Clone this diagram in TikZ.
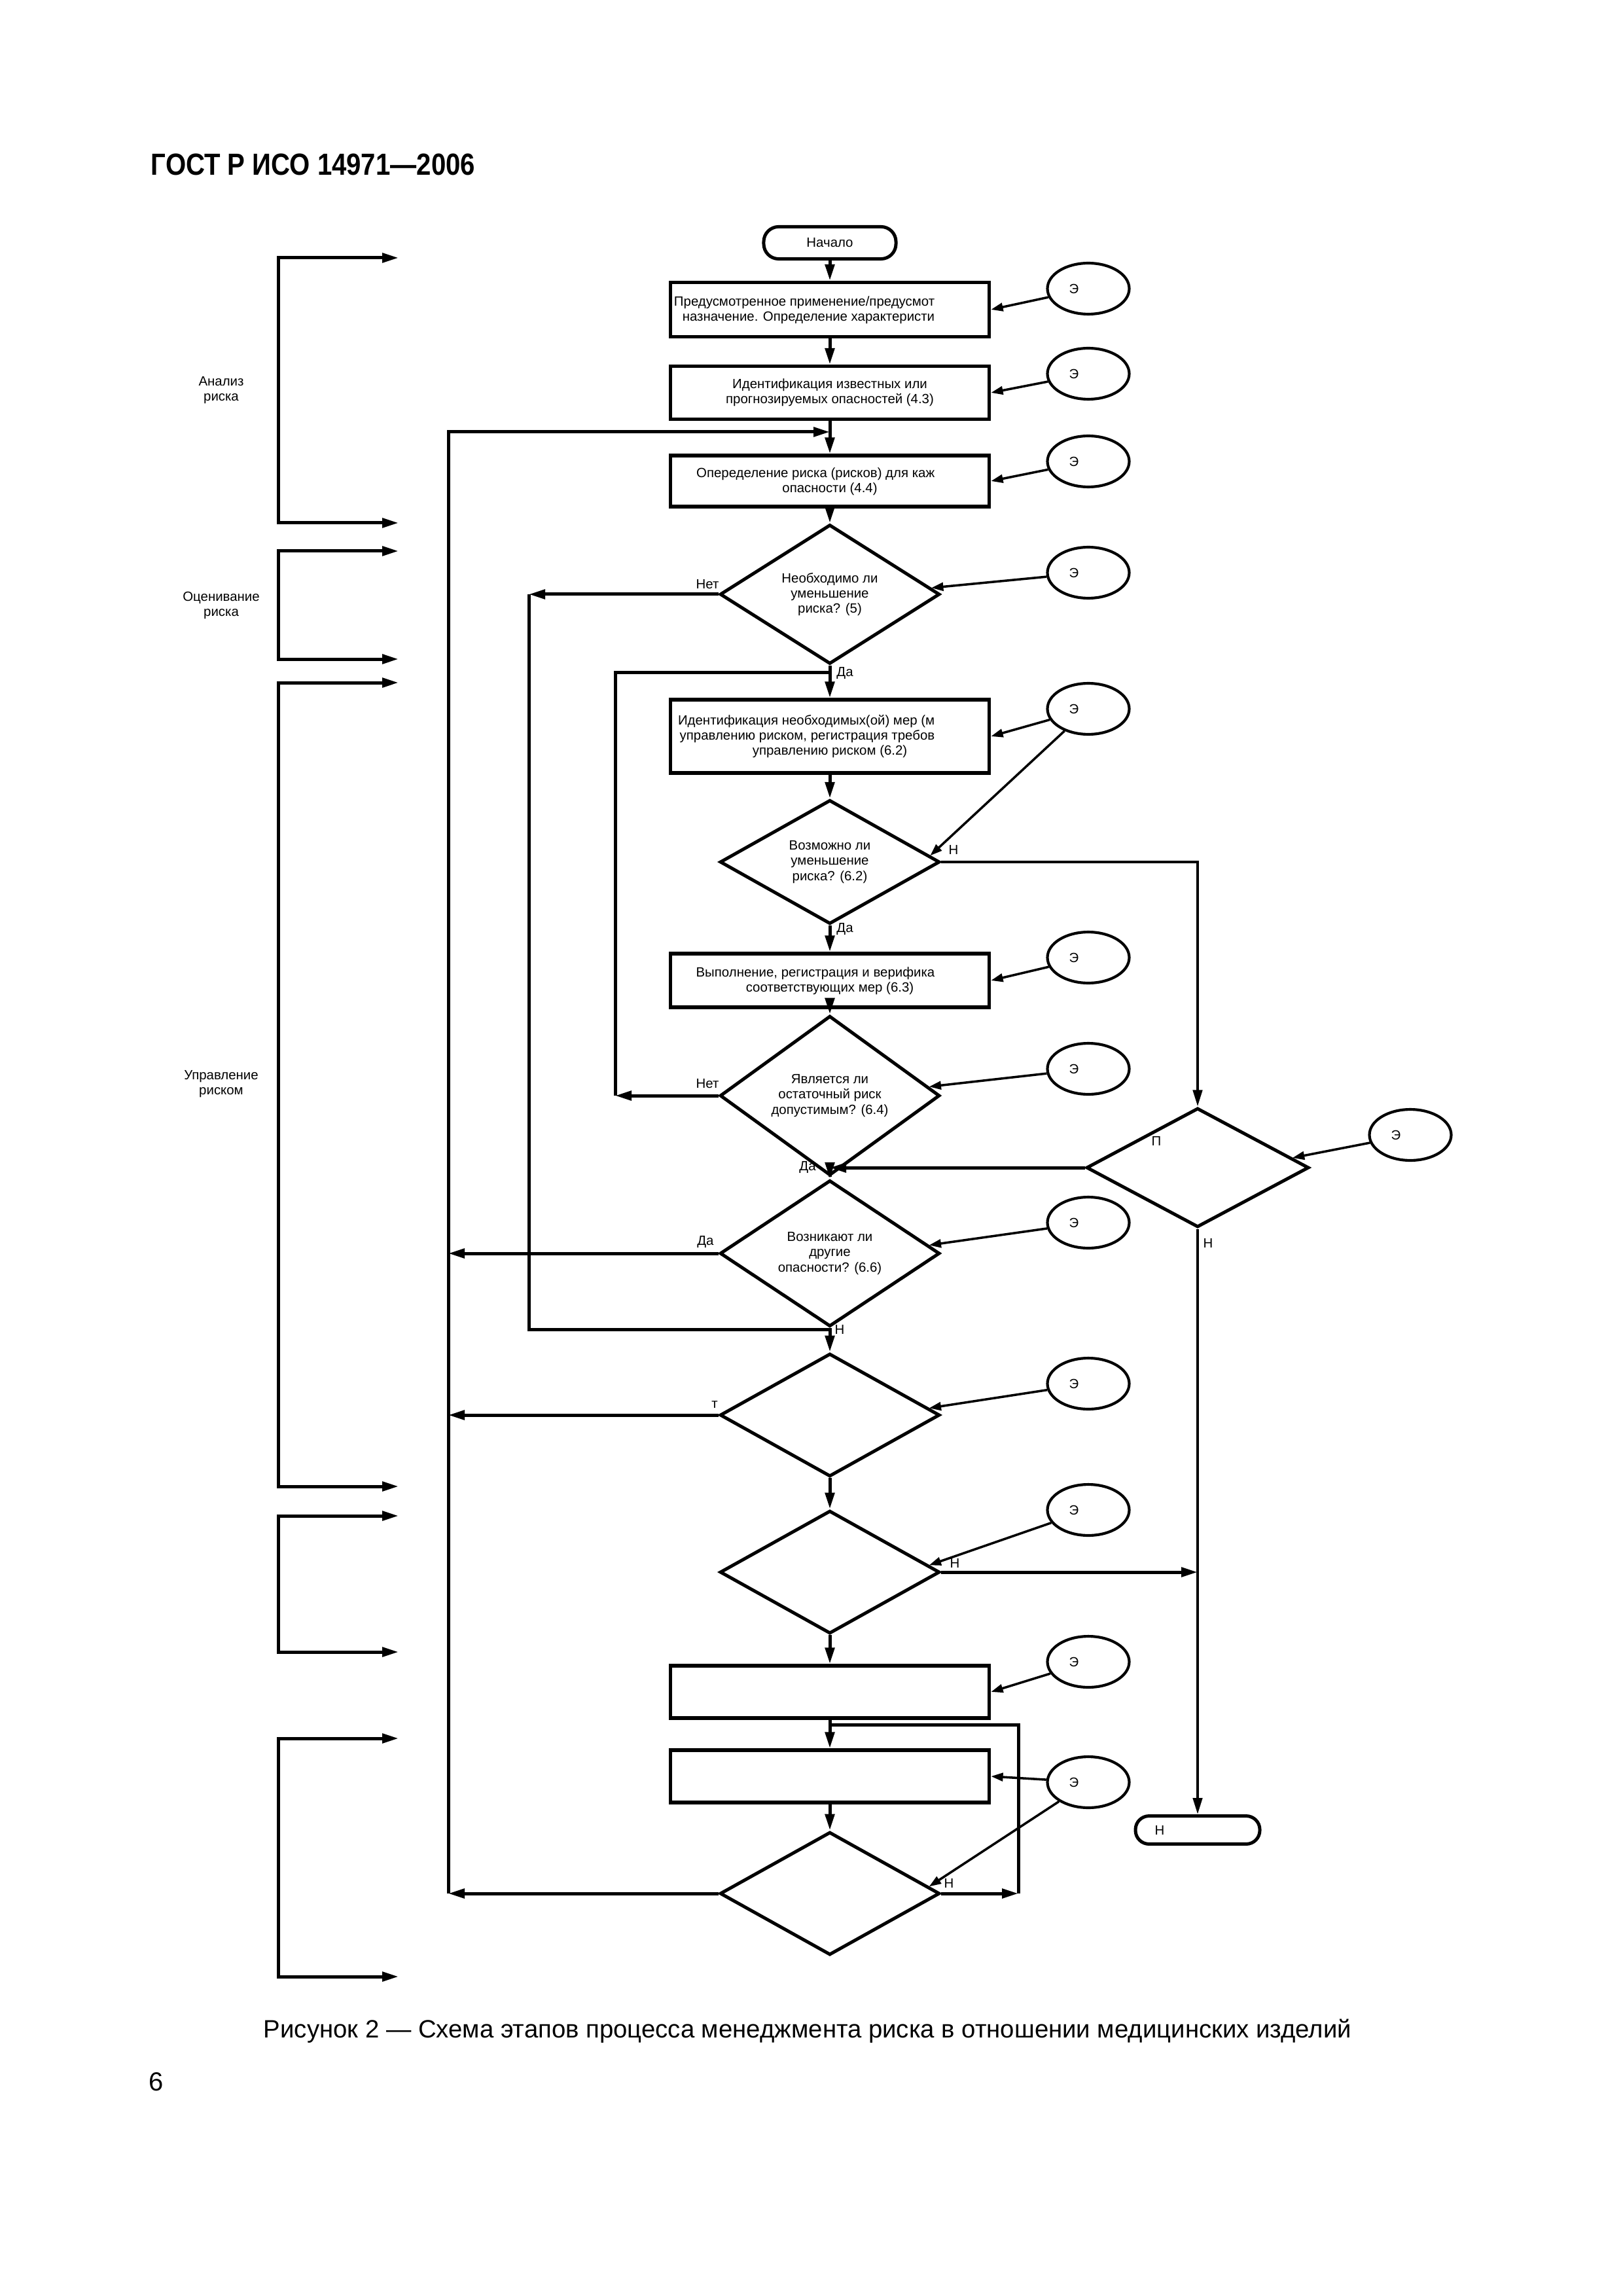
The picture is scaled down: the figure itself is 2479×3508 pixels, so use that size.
\documentclass[tikz,border=0pt]{standalone}
\usepackage{fontspec}
\setmainfont{Liberation Sans}
\newfontfamily\hdrfont[FakeStretch=0.86]{Liberation Sans}
\usetikzlibrary{shapes.geometric,arrows.meta,calc}
\newcommand\fs{\fontsize{4.9pt}{5.6pt}\selectfont}
\tikzset{
  ln/.style={line width=1.2pt},
  rl/.style={line width=0.95pt},
  ar/.style={line width=1.2pt,-{Triangle[length=6pt,width=3.4pt]}},
  rar/.style={line width=0.95pt,-{Triangle[length=6pt,width=3.4pt]}},
  tar/.style={line width=0.85pt,-{Triangle[length=4.4pt,width=3pt]}},
  brk/.style={line width=1.2pt,{Triangle[length=6pt,width=3.4pt]}-{Triangle[length=6pt,width=3.4pt]}},
  blk/.style={draw,line width=1.3pt,minimum width=116.9pt,inner sep=0pt},
  dia/.style={diamond,draw,line width=1.2pt,minimum width=80.6pt,minimum height=45.1pt,inner sep=0pt,align=center,font=\fs},
  ell/.style={ellipse,draw,line width=1pt,minimum width=30pt,minimum height=18.7pt,inner sep=0pt},
  txt/.style={inner sep=0pt,font=\fs,align=center},
  term/.style={draw,line width=1.2pt,inner sep=0pt,font=\fs},
}
\begin{document}
\begin{tikzpicture}[x=0.24pt,y=-0.24pt]
\useasboundingbox (0,0) rectangle (2479,3508);
\fill[white] (0,0) rectangle (2479,3508);

% header, caption, page number
\node[anchor=west,inner sep=0pt,font=\hdrfont\bfseries\fontsize{11.2pt}{13pt}\selectfont] (hdr) at (230,251) {ГОСТ Р ИСО 14971—2006};
\node[inner sep=0pt,font=\fontsize{9.2pt}{11pt}\selectfont] (cap) at (1234,3103) {Рисунок 2 — Схема этапов процесса менеджмента риска в отношении медицинских изделий};
\node[inner sep=0pt,font=\fontsize{9.6pt}{11pt}\selectfont] (pg) at (239,3181) {6};

% main column
\node[term,minimum width=48.5pt,minimum height=11.8pt,rounded corners=5.5pt] (start) at (1268,371) {Начало};
\node[blk,minimum height=19.9pt] (B1) at (1268,473) {};
\node[blk,minimum height=19.4pt] (B2) at (1268,600) {};
\node[blk,minimum height=18.7pt] (B3) at (1268,735) {};
\node[dia] (D1) at (1268,908) {Необходимо ли\\уменьшение\\риска? (5)};
\node[blk,minimum height=26.9pt] (B4) at (1268,1125) {};
\node[dia] (D2) at (1268,1317) {Возможно ли\\уменьшение\\риска? (6.2)};
\node[blk,minimum height=19.7pt] (B5) at (1268,1498) {};
\node[dia] (D3) at (1268,1674) {Является ли\\остаточный риск\\допустимым? (6.4)};
\node[dia] (D4) at (1268,1915) {Возникают ли\\другие\\опасности? (6.6)};
\node[dia] (D5) at (1268,2162) {};
\node[dia] (D6) at (1268,2402) {};
\node[blk,minimum height=19.2pt] (B6) at (1268,2585) {};
\node[blk,minimum height=19.2pt] (B7) at (1268,2714) {};
\node[dia] (D7) at (1268,2893) {};
\node[dia,minimum width=81.6pt,minimum height=43.7pt] (P) at (1830,1784) {};
\node[term,minimum width=45.6pt,minimum height=10.3pt,rounded corners=5pt] (T) at (1830,2796) {};

% box texts
\node[txt,anchor=east] (t1a) at (1429,462) {Предусмотренное применение/предусмот};
\node[txt,anchor=east] (t1b) at (1429,485) {назначение. Определение характеристи};
\node[txt] (t2) at (B2.center) {Идентификация известных или\\прогнозируемых опасностей (4.3)};
\node[txt,anchor=east] (t3a) at (1429,724) {Опеределение риска (рисков) для каж};
\node[txt] (t3b) at (1268,747) {опасности (4.4)};
\node[txt,anchor=east] (t4a) at (1429,1102) {Идентификация необходимых(ой) мер (м};
\node[txt,anchor=east] (t4b) at (1429,1125) {управлению риском, регистрация требов};
\node[txt] (t4c) at (1268,1148) {управлению риском (6.2)};
\node[txt,anchor=east] (t5a) at (1429,1487) {Выполнение, регистрация и верифика};
\node[txt] (t5b) at (1268,1510) {соответствующих мер (6.3)};
\node[txt] (tT) at (1772,2796) {Н};

% labels
\node[txt] (nD1no) at (1081,893) {Нет};
\node[txt] (nD1yes) at (1291,1029) {Да};
\node[txt] (nD2n) at (1457,1298) {Н};
\node[txt] (nD2yes) at (1291,1420) {Да};
\node[txt] (nD3no) at (1081,1656) {Нет};
\node[txt] (nD3yes) at (1234,1783) {Да};
\node[txt] (nP) at (1767,1743) {П};
\node[txt] (nPn) at (1846,1899) {Н};
\node[txt] (nD4yes) at (1078,1897) {Да};
\node[txt] (nD4n) at (1283,2031) {Н};
\node[txt] (nD5t) at (1092,2146) {т};
\node[txt] (nD6n) at (1459,2388) {Н};
\node[txt] (nD7n) at (1450,2877) {Н};

% bracket labels
\node[txt] (bA) at (338,596) {Анализ\\риска};
\node[txt] (bO) at (338,925) {Оценивание\\риска};
\node[txt] (bU) at (338,1656) {Управление\\риском};

% ellipses
\foreach \n/\y in {1/441,2/571,3/705,4/875,5/1083,6/1463,7/1633,9/1868,10/2114,11/2307,12/2539,13/2723}{
  \node[ell] (E\n) at (1663,\y) {};
  \node[txt] (E\n t) at (1641,\y) {Э};
}
\node[ell] (E8) at (2155,1734) {};
\node[txt] (E8t) at (2133,1734) {Э};

% main column connectors
\draw[ar] (start.south) -- (B1.north);
\draw[ar] (B1.south) -- (B2.north);
\draw[ar] (B2.south) -- (B3.north);
\draw[ar] (B3.south) -- (D1.north);
\draw[ar] (D1.south) -- (B4.north);
\draw[ar] (B4.south) -- (D2.north);
\draw[ar] (D2.south) -- (B5.north);
\draw[ar] (B5.south) -- (D3.north);
\draw[ar] (D3.south) -- (D4.north);
\draw[ar] (D4.south) -- (D5.north);
\draw[ar] (D5.south) -- (D6.north);
\draw[ar] (D6.south) -- (B6.north);
\draw[ar] (B6.south) -- (B7.north);
\draw[ar] (B7.south) -- (D7.north);

% long left loop (x=685)
\coordinate (cLt) at (685,660);
\coordinate (jA) at (1268,660);
\coordinate (cLb) at (D7.west -| cLt);
\draw[ar] (cLb) -- (cLt) -- (jA);
\draw[ar] (D4.west) -- (D4.west -| cLt);
\draw[ar] (D5.west) -- (D5.west -| cLt);
\draw[ar] (D7.west) -- (cLb);

% loop x=808
\coordinate (cM1) at (D1.west -| 808,0);
\coordinate (cM2) at (808,2031);
\coordinate (jM) at (1268,2031);
\draw[ar] (D1.west) -- (cM1);
\draw[ln] (cM1) -- (cM2) -- (jM);

% loop x=940
\coordinate (jN) at (1268,1027);
\coordinate (cN1) at (940,1027);
\coordinate (cN2) at (D3.west -| cN1);
\draw[ln] (jN) -- (cN1) -- (cN2);
\draw[ar] (D3.west) -- (cN2);

% right branch
\draw[rar] (D2.east) -- (D2.east -| P.north) -- (P.north);
\draw[ar] (P.west) -- (P.west -| D3.south);
\draw[rar] (P.south) -- (T.north);
\draw[ar] (D6.east) -- (D6.east -| P.south);

% loop x=1556
\coordinate (cS1) at (D7.east -| 1556,0);
\coordinate (cS2) at (1556,2635);
\coordinate (jS) at (1268,2635);
\draw[ar] (D7.east) -- (cS1);
\draw[ln] (cS1) -- (cS2) -- (jS);

% ellipse arrows
\draw[tar] (E1) -- (B1.east);
\draw[tar] (E2) -- (B2.east);
\draw[tar] (E3) -- (B3.east);
\draw[tar] (E4) -- ($(D1.east)!0.09!(D1.north)$);
\draw[tar] (E5) -- (B4.east);
\draw[tar] (E5) -- ($(D2.east)!0.1!(D2.north)$);
\draw[tar] (E6) -- (B5.east);
\draw[tar] (E7) -- ($(D3.east)!0.11!(D3.north)$);
\draw[tar] (E8) -- ($(P.east)!0.16!(P.north)$);
\draw[tar] (E9) -- ($(D4.east)!0.11!(D4.north)$);
\draw[tar] (E10) -- ($(D5.east)!0.11!(D5.north)$);
\draw[tar] (E11) -- ($(D6.east)!0.11!(D6.north)$);
\draw[tar] (E12) -- (B6.east);
\draw[tar] (E13) -- (B7.east);
\draw[tar] (E13) -- ($(D7.east)!0.11!(D7.north)$);

% brackets
\coordinate (k1a) at (609,394);  \coordinate (k1b) at (609,799);
\coordinate (k2a) at (609,842);  \coordinate (k2b) at (609,1007);
\coordinate (k3a) at (609,1043); \coordinate (k3b) at (609,2271);
\coordinate (k4a) at (609,2316); \coordinate (k4b) at (609,2524);
\coordinate (k5a) at (609,2656); \coordinate (k5b) at (609,3020);
\foreach \k in {1,...,5}{
  \draw[brk] (k\k a) -- ($(k\k a)+(-184,0)$) -- ($(k\k b)+(-184,0)$) -- (k\k b);
}
\end{tikzpicture}
\end{document}
